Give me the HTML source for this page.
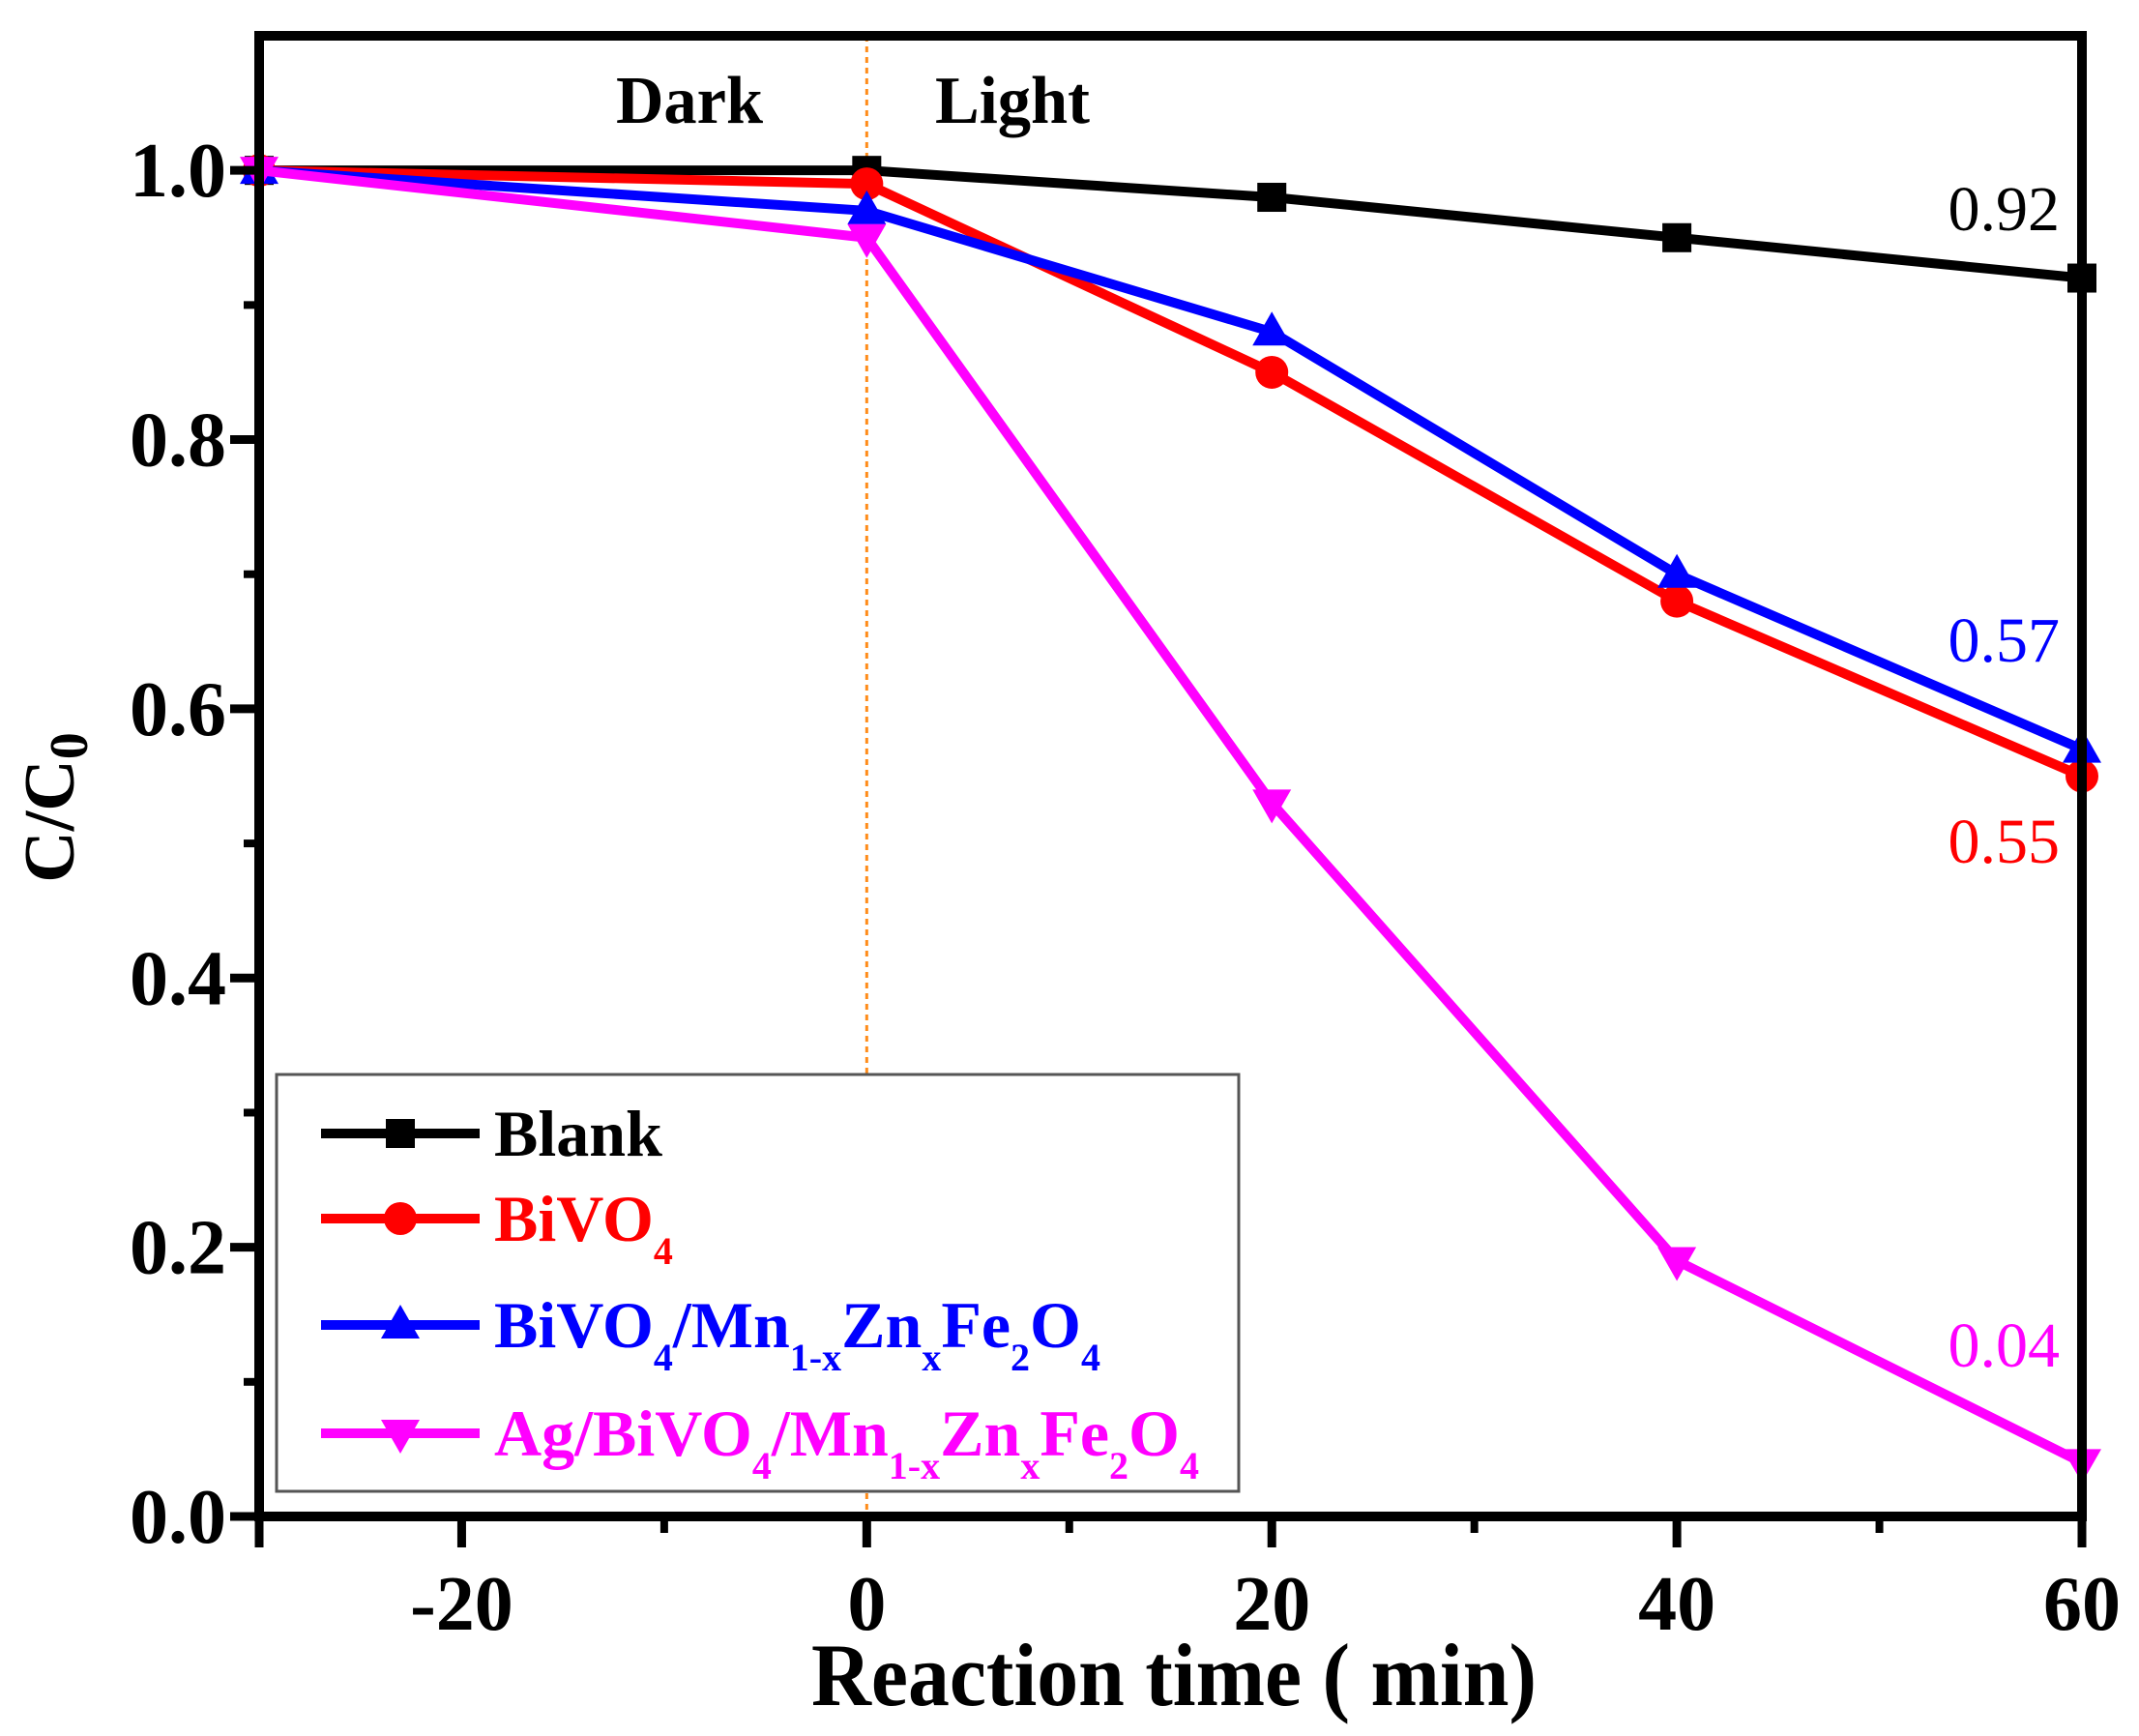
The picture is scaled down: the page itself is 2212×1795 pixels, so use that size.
<!DOCTYPE html>
<html><head><meta charset="utf-8"><style>
html,body{margin:0;padding:0;background:#fff;}
svg text{font-family:"Liberation Serif",serif;}
</style></head><body>
<svg id="chart" width="2212" height="1790" xmlns="http://www.w3.org/2000/svg">
<rect width="2212" height="1790" fill="#fff"/>
<g id="marks"></g>
</svg>
<script>
const xValues = [-30, 0, 20, 40, 60];
const blank = [1.0, 1.0, 0.98, 0.95, 0.92];
const bivo4 = [1.0, 0.99, 0.85, 0.68, 0.55];
const composite = [1.0, 0.97, 0.88, 0.70, 0.57];
const agComposite = [1.0, 0.95, 0.53, 0.19, 0.04];
const xTicks = [-20, 0, 20, 40, 60];
const xMinorTicks = [-10, 10, 30, 50];
const yTicks = [0.0, 0.2, 0.4, 0.6, 0.8, 1.0];
const yMinorTicks = [0.1, 0.3, 0.5, 0.7, 0.9];
const endLabels = ["0.92", "0.57", "0.55", "0.04"];

const L=268,R=2153,T=37,B=1568;
const X0=-30,X1=60,Y0=0,Y1=1.1;
function sx(v){return L+(v-X0)/(X1-X0)*(R-L);}
function sy(v){return B-(v-Y0)/(Y1-Y0)*(B-T);}
const NS="http://www.w3.org/2000/svg";
const svg=document.getElementById('chart');
function mk(tag,attrs,parent){const e=document.createElementNS(NS,tag);for(const k in attrs)e.setAttribute(k,attrs[k]);(parent||svg).appendChild(e);return e;}

let dv=mk('line',{x1:sx(0),x2:sx(0),y1:T,y2:B,stroke:'#ff8c1a','stroke-width':3,'stroke-dasharray':'6,5'});



const series=[
 {name:'blank',data:blank,color:'#000',marker:'square'},
 {name:'bivo4',data:bivo4,color:'#ff0000',marker:'circle'},
 {name:'bivo4-mnznfe2o4',data:composite,color:'#0000ff',marker:'tri-up'},
 {name:'ag-bivo4-mnznfe2o4',data:agComposite,color:'#ff00ff',marker:'tri-down'}
];
function marker(type,cx,cy,color,parent){
  let e;
  if(type==='square') e=mk('rect',{x:cx-15,y:cy-15,width:30,height:30,fill:color},parent);
  else if(type==='circle') e=mk('circle',{cx:cx,cy:cy,r:17,fill:color},parent);
  else if(type==='tri-up') e=mk('polygon',{points:`${cx},${cy-21} ${cx-20},${cy+14} ${cx+20},${cy+14}`,fill:color},parent);
  else e=mk('polygon',{points:`${cx},${cy+21} ${cx-20},${cy-14} ${cx+20},${cy-14}`,fill:color},parent);
  return e;
}
series.forEach(s=>{
  const g=mk('g',{});
  
  
  const pts=s.data.map((v,i)=>sx(xValues[i])+','+sy(v)).join(' ');
  const pl=mk('polyline',{points:pts,fill:'none',stroke:s.color,'stroke-width':10,'stroke-linejoin':'miter'},g);
  
  
  s.data.forEach((v,i)=>{
    const m=marker(s.marker,sx(xValues[i]),sy(v),s.color,g);
    
    
  });
});

const ax=mk('rect',{x:L,y:T,width:R-L,height:B-T,fill:'none',stroke:'#000','stroke-width':10});



[...xTicks,-30].forEach(v=>{
  const t=mk('line',{x1:sx(v),x2:sx(v),y1:B,y2:B+32,stroke:'#000','stroke-width':9});
  
  
});
xMinorTicks.forEach(v=>{
  const t=mk('line',{x1:sx(v),x2:sx(v),y1:B,y2:B+17,stroke:'#000','stroke-width':8});
  
  
});
xTicks.forEach(v=>{
  const t=mk('text',{x:sx(v),y:1685,'text-anchor':'middle','font-size':80,'font-weight':'bold'});
  t.textContent=String(v);
  
  
});
yTicks.forEach(v=>{
  const t=mk('line',{x1:L-30,x2:L,y1:sy(v),y2:sy(v),stroke:'#000','stroke-width':9});
  
  
  const l=mk('text',{x:234,y:sy(v)+27,'text-anchor':'end','font-size':80,'font-weight':'bold'});
  l.textContent=v.toFixed(1);
  
  
});
yMinorTicks.forEach(v=>{
  const t=mk('line',{x1:L-16,x2:L,y1:sy(v),y2:sy(v),stroke:'#000','stroke-width':8});
  
  
});

const endColors=['#000','#0000ff','#ff0000','#ff00ff'];
const endY=[238,684,892,1413];
endLabels.forEach((s,i)=>{
  const t=mk('text',{x:2130,y:endY[i],'text-anchor':'end','font-size':66,fill:endColors[i]});
  t.textContent=s;
  
  
});
</script>
<svg style="position:absolute;left:0;top:0" width="2212" height="1790" xmlns="http://www.w3.org/2000/svg">
<text x="637" y="127" font-size="70" font-weight="bold" textLength="152" lengthAdjust="spacingAndGlyphs">Dark</text>
<text x="967" y="127" font-size="70" font-weight="bold" textLength="160" lengthAdjust="spacingAndGlyphs">Light</text>
<text x="1214" y="1763" text-anchor="middle" font-size="92" font-weight="bold" textLength="750" lengthAdjust="spacingAndGlyphs">Reaction time ( min)</text>
<text transform="translate(76,835) rotate(-90)" text-anchor="middle" font-size="74" font-weight="bold">C/C<tspan font-size="56" dy="14">0</tspan></text>
<g>
<rect x="286" y="1111" width="995" height="431" fill="#fff" stroke="#555" stroke-width="3"/>
<g>
<line x1="332" x2="496" y1="1172" y2="1172" stroke="#000" stroke-width="10"/><rect x="399" y="1157" width="30" height="30" fill="#000"/>
<text x="511" y="1195" font-size="68" font-weight="bold">Blank</text></g>
<g>
<line x1="332" x2="496" y1="1260" y2="1260" stroke="#f00" stroke-width="10"/><circle cx="414" cy="1260" r="17" fill="#f00"/>
<text x="511" y="1283" font-size="68" font-weight="bold" fill="#f00">BiVO<tspan font-size="40" dy="24">4</tspan></text></g>
<g>
<line x1="332" x2="496" y1="1370" y2="1370" stroke="#00f" stroke-width="10"/><polygon points="414,1349 394,1384 434,1384" fill="#00f"/>
<text x="511" y="1393" font-size="68" font-weight="bold" fill="#00f">BiVO<tspan font-size="40" dy="24">4</tspan><tspan dy="-24">/Mn</tspan><tspan font-size="40" dy="24">1-x</tspan><tspan dy="-24">Zn</tspan><tspan font-size="40" dy="24">x</tspan><tspan dy="-24">Fe</tspan><tspan font-size="40" dy="24">2</tspan><tspan dy="-24">O</tspan><tspan font-size="40" dy="24">4</tspan></text></g>
<g>
<line x1="332" x2="496" y1="1482" y2="1482" stroke="#f0f" stroke-width="10"/><polygon points="414,1503 394,1468 434,1468" fill="#f0f"/>
<text x="511" y="1505" font-size="68" font-weight="bold" fill="#f0f">Ag/BiVO<tspan font-size="40" dy="24">4</tspan><tspan dy="-24">/Mn</tspan><tspan font-size="40" dy="24">1-x</tspan><tspan dy="-24">Zn</tspan><tspan font-size="40" dy="24">x</tspan><tspan dy="-24">Fe</tspan><tspan font-size="40" dy="24">2</tspan><tspan dy="-24">O</tspan><tspan font-size="40" dy="24">4</tspan></text></g>
</g>
</svg>
</body></html>
